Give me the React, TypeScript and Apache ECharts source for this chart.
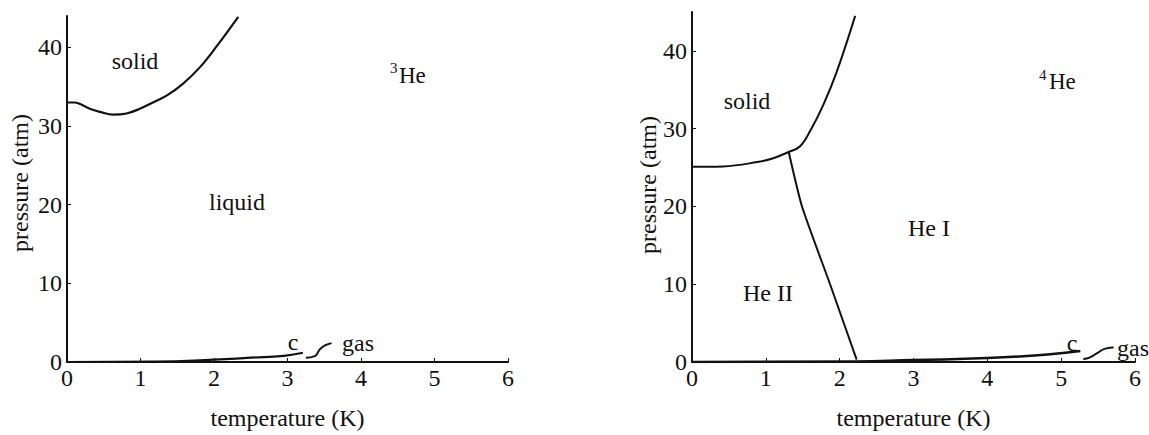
import React, { useEffect, useRef } from "react";
import * as echarts from "echarts";

// ---------- data ----------
const X_TICKS = [0, 1, 2, 3, 4, 5, 6];
const Y_TICKS = [0, 10, 20, 30, 40];

// 3He (left panel)
const HE3_MELT_T = [0, 0.1, 0.18, 0.31, 0.45, 0.63, 0.81, 0.99, 1.17, 1.36, 1.58, 1.81, 2.04, 2.33];
const HE3_MELT_P = [33.0, 33.0, 32.8, 32.2, 31.8, 31.45, 31.6, 32.2, 33.0, 33.9, 35.4, 37.5, 40.2, 43.9];
const HE3_VAP_T = [0, 1.2, 2.0, 2.5, 2.95, 3.21];
const HE3_VAP_P = [0, 0.05, 0.3, 0.55, 0.78, 1.17];
const HE3_GAS_T = [3.25, 3.37, 3.44, 3.51, 3.6];
const HE3_GAS_P = [0.54, 0.75, 1.6, 2.1, 2.4];

// 4He (right panel)
const HE4_MELT_T = [0, 0.42, 0.88, 1.1, 1.31, 1.46, 1.6, 1.78, 1.96, 2.21];
const HE4_MELT_P = [25.1, 25.15, 25.7, 26.2, 27.0, 27.7, 29.7, 33.1, 37.3, 44.5];
const HE4_LAMBDA_T = [1.31, 1.49, 1.87, 2.23];
const HE4_LAMBDA_P = [27.0, 20, 10, 0.3];
const HE4_VAP_T = [0, 2.2, 3.0, 4.0, 4.85, 5.26];
const HE4_VAP_P = [0, 0.05, 0.25, 0.5, 1.0, 1.4];
const HE4_GAS_T = [5.3, 5.39, 5.5, 5.6, 5.71];
const HE4_GAS_P = [0.38, 0.59, 1.22, 1.72, 1.86];

const X_TITLE = "temperature (K)";
const Y_TITLE = "pressure (atm)";

const FONT = "'Liberation Serif', 'DejaVu Serif', serif";
const INK = "#111";

const zip = (xs: number[], ys: number[]) => xs.map((x, i) => [x, ys[i]]);

const line = (xs: number[], ys: number[], idx: number, smooth: number | boolean = 0.5, width = 2) => ({
  type: "line",
  xAxisIndex: idx,
  yAxisIndex: idx,
  data: zip(xs, ys),
  showSymbol: false,
  symbol: "none",
  smooth,
  lineStyle: { color: INK, width },
  silent: true,
});

const xAxis = (gridIndex: number) => ({
  type: "value",
  gridIndex,
  min: 0,
  max: 6,
  interval: 1,
  name: X_TITLE,
  nameLocation: "middle",
  nameGap: 44,
  nameTextStyle: { fontFamily: FONT, fontSize: 24, color: INK },
  axisLine: { show: true, onZero: false, lineStyle: { color: INK, width: 2 } },
  axisTick: { show: true, inside: true, length: 4, lineStyle: { color: INK, width: 1 }, customValues: X_TICKS },
  axisLabel: { fontFamily: FONT, fontSize: 24, color: INK, margin: 4, customValues: X_TICKS },
  splitLine: { show: false },
});

const yAxis = (gridIndex: number, max: number) => ({
  type: "value",
  gridIndex,
  min: 0,
  max,
  interval: 10,
  axisLine: { show: true, onZero: false, lineStyle: { color: INK, width: 2 } },
  axisTick: { show: true, inside: true, length: 4, lineStyle: { color: INK, width: 1 }, customValues: Y_TICKS },
  axisLabel: { fontFamily: FONT, fontSize: 24, color: INK, margin: 5, customValues: Y_TICKS },
  splitLine: { show: false },
});

const txt = (text: string, x: number, y: number, opts: any = {}) => ({
  type: "text",
  x,
  y,
  rotation: opts.rotation || 0,
  silent: true,
  style: {
    text,
    fill: INK,
    fontFamily: FONT,
    fontSize: opts.size || 24,
    align: opts.align || "center",
    verticalAlign: "middle",
  },
});

export default function App() {
  const ref = useRef<HTMLDivElement>(null);
  useEffect(() => {
    if (!ref.current) return;
    const chart = echarts.init(ref.current, null, { renderer: "svg" });
    chart.setOption({
      animation: false,
      backgroundColor: "#fff",
      textStyle: { fontFamily: FONT },
      grid: [
        { left: 67, top: 16, width: 441, height: 350 },
        { left: 692, top: 12, width: 443, height: 356 },
      ],
      xAxis: [xAxis(0), xAxis(1)],
      yAxis: [yAxis(0, 44), yAxis(1, 45)],
      series: [
        line(HE3_MELT_T, HE3_MELT_P, 0, 0.4, 2.2),
        line(HE3_VAP_T, HE3_VAP_P, 0, 0.5, 2.2),
        line(HE3_GAS_T, HE3_GAS_P, 0),
        line(HE4_MELT_T, HE4_MELT_P, 1, 0.4),
        line(HE4_LAMBDA_T, HE4_LAMBDA_P, 1, 0.2),
        line(HE4_VAP_T, HE4_VAP_P, 1, 0.5, 2.5),
        line(HE4_GAS_T, HE4_GAS_P, 1),
      ],
      graphic: [
        txt(Y_TITLE, 20, 183, { rotation: Math.PI / 2 }),
        txt(Y_TITLE, 648, 185, { rotation: Math.PI / 2 }),
        txt("solid", 135, 61),
        txt("liquid", 237, 202),
        txt("3", 390, 68, { size: 15, align: "left" }),
        txt("He", 399, 75, { size: 23, align: "left" }),
        txt("c", 293, 342),
        txt("gas", 358, 343),
        txt("solid", 747, 101),
        txt("He II", 768, 293),
        txt("He I", 929, 228),
        txt("4", 1039, 75, { size: 15, align: "left" }),
        txt("He", 1049, 81, { size: 23, align: "left" }),
        txt("c", 1072, 343),
        txt("gas", 1133, 348),
      ],
    });
    return () => chart.dispose();
  }, []);
  return (
    <div
      ref={ref}
      style={{ position: "absolute", left: 0, top: 0, width: 1149, height: 435, background: "#fff" }}
    />
  );
}
